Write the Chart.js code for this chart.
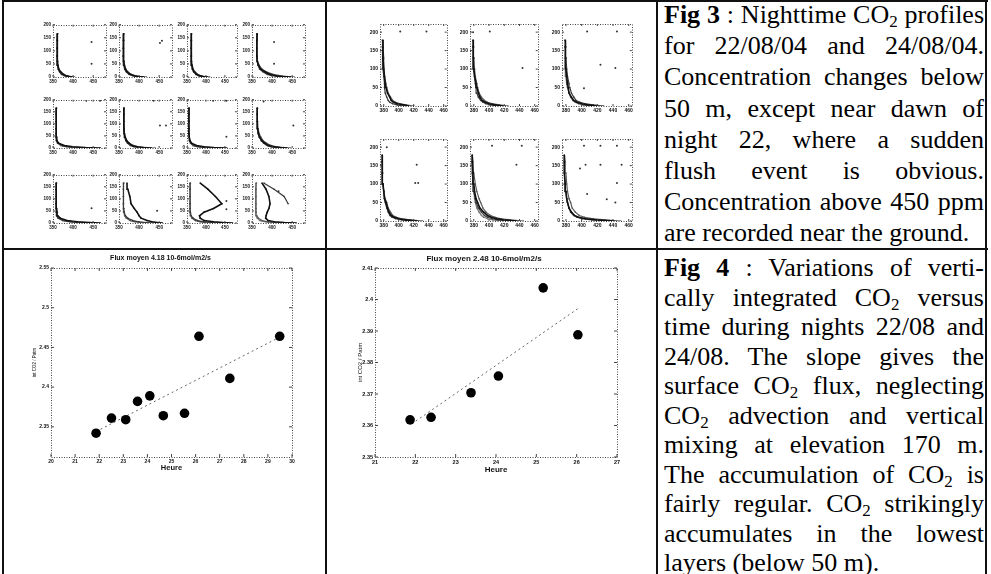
<!DOCTYPE html>
<html>
<head>
<meta charset="utf-8">
<script src="https://cdn.jsdelivr.net/npm/chart.js@4.4.1/dist/chart.umd.min.js"></script>
<style>
html, body { margin: 0; padding: 0; background: #fff; }
#page { position: relative; width: 991px; height: 574px; overflow: hidden; background: #fff; }
#page canvas { position: absolute; }
.rule { position: absolute; background: #111; }
.txt { position: absolute; left: 664px; width: 320px; font-family: "Liberation Serif", "Times New Roman", serif;
       font-size: 26px; color: #000; }
.txt div { white-space: nowrap; text-align: justify; text-align-last: justify; }
.txt div.last { text-align-last: left; }
.txt sub { font-size: 17px; line-height: 0; vertical-align: -4px; }
</style>
</head>
<body>
<div id="page">
  <div class="rule" style="left:2px;top:0;width:986px;height:2px"></div>
  <div class="rule" style="left:2px;top:248px;width:986px;height:2px"></div>
  <div class="rule" style="left:2px;top:0;width:2px;height:574px"></div>
  <div class="rule" style="left:325px;top:0;width:2px;height:574px"></div>
  <div class="rule" style="left:656px;top:0;width:2px;height:574px"></div>
  <div class="rule" style="left:985px;top:0;width:2px;height:574px"></div>

  <div class="txt" style="top:-1px;line-height:31.2px">
    <div><b>Fig 3</b> : Nighttime CO<sub>2</sub> profiles</div>
    <div>for 22/08/04 and 24/08/04.</div>
    <div>Concentration changes below</div>
    <div>50 m, except near dawn of</div>
    <div>night 22, where a sudden</div>
    <div>flush event is obvious.</div>
    <div>Concentration above 450 ppm</div>
    <div class="last">are recorded near the ground.</div>
  </div>
  <div class="txt" style="top:253px;line-height:29.5px">
    <div><b>Fig 4</b> : Variations of verti-</div>
    <div>cally integrated CO<sub>2</sub> versus</div>
    <div>time during nights 22/08 and</div>
    <div>24/08. The slope gives the</div>
    <div>surface CO<sub>2</sub> flux, neglecting</div>
    <div>CO<sub>2</sub> advection and vertical</div>
    <div>mixing at elevation 170 m.</div>
    <div>The accumulation of CO<sub>2</sub> is</div>
    <div>fairly regular. CO<sub>2</sub> strikingly</div>
    <div>accumulates in the lowest</div>
    <div class="last">layers (below 50 m).</div>
  </div>
</div>
<script>
// ---------- data ----------
// heights (m) of the profile levels
const hgt22 = [0, 2, 5, 10, 20, 30, 45, 60, 80, 110, 140, 165];
const hgt24 = [0, 3, 6, 10, 15, 24, 35, 50, 60, 80, 100, 130, 160, 178];

// night 22/08 : 12 panels, CO2 ppm at each level, several profiles per panel
const n22a = [[398, 390, 382, 375, 368, 364, 362, 361, 360, 360, 361, 361], [392, 386, 378, 371, 366, 363, 361, 360, 360, 360, 360, 361], [404, 394, 385, 377, 370, 365, 363, 362, 361, 361, 361, 362]];
const n22b = [[412, 398, 388, 378, 370, 366, 363, 362, 361, 361, 361, 362], [405, 394, 384, 375, 368, 364, 362, 361, 360, 360, 361, 361], [418, 402, 390, 380, 372, 367, 364, 362, 361, 361, 362, 362]];
const n22c = [[404, 392, 384, 376, 369, 365, 363, 362, 361, 361, 361, 362], [398, 388, 380, 373, 367, 364, 362, 361, 361, 361, 361, 361], [410, 396, 387, 378, 371, 366, 364, 362, 362, 361, 362, 362]];
const n22d = [[446, 425, 410, 395, 382, 372, 366, 363, 362, 362, 362, 363], [430, 414, 400, 388, 377, 369, 365, 363, 362, 362, 362, 362], [455, 438, 420, 402, 386, 375, 368, 364, 363, 362, 363, 363]];
const n22e = [[468, 430, 400, 378, 364, 360, 359, 358, 358, 358, 358, 358], [445, 415, 392, 374, 362, 359, 358, 358, 358, 358, 358, 359], [420, 400, 384, 370, 361, 359, 358, 358, 358, 358, 358, 358]];
const n22f = [[430, 410, 395, 383, 374, 369, 365, 363, 362, 362, 362, 362], [415, 400, 388, 378, 371, 367, 364, 363, 362, 362, 362, 362], [440, 418, 400, 386, 376, 370, 366, 364, 363, 362, 362, 363]];
const n22g = [[455, 420, 395, 375, 362, 358, 356, 355, 355, 355, 355, 355], [435, 405, 385, 370, 360, 357, 356, 355, 355, 355, 355, 356], [415, 395, 378, 366, 359, 357, 356, 355, 355, 355, 355, 355]];
const n22h = [[437, 420, 405, 392, 382, 375, 369, 366, 364, 363, 363, 363], [425, 410, 398, 388, 379, 373, 368, 365, 364, 363, 363, 363], [445, 428, 412, 398, 386, 378, 372, 368, 365, 364, 363, 364]];
const n22i = [[468, 440, 410, 385, 368, 362, 360, 359, 358, 358, 358, 358], [450, 425, 400, 378, 364, 360, 359, 358, 358, 358, 358, 358], [430, 410, 392, 374, 362, 359, 358, 358, 358, 358, 358, 359]];
const n22j = [[458, 445, 432, 420, 405, 400, 395, 388, 380, 377, 372, 370], [440, 420, 400, 385, 372, 366, 363, 362, 361, 361, 361, 362], [425, 405, 390, 378, 368, 364, 362, 361, 361, 361, 361, 361]];
const n22k = [[470, 445, 420, 395, 385, 383, 395, 420, 442, 425, 405, 385], [440, 415, 395, 378, 366, 361, 359, 358, 358, 358, 358, 358], [420, 400, 385, 372, 363, 360, 358, 358, 358, 358, 358, 359]];
const n22l = [[460, 430, 405, 390, 384, 385, 388, 392, 395, 392, 385, 375], [null, null, null, null, null, null, null, null, 440, 430, 405, 380], [440, 410, 390, 375, 366, 362, 360, 360, 360, 360, 360, 361], [425, 400, 384, 370, 363, 360, 359, 359, 359, 359, 359, 360]];
const night22 = [n22a, n22b, n22c, n22d, n22e, n22f, n22g, n22h, n22i, n22j, n22k, n22l];
// isolated samples: [panel, ppm, height]
const stray22 = [[0, 446, 134], [0, 446, 51], [1, 452, 130], [1, 457, 139], [3, 405, 134], [3, 405, 51],
                 [4, 433, 196], [4, 467, 196], [5, 436, 196], [5, 452, 93], [5, 467, 93],
                 [6, 419, 196], [6, 454, 196], [6, 454, 47], [7, 379, 193], [7, 453, 93],
                 [8, 446, 61], [9, 445, 51], [10, 454, 91], [10, 454, 57], [11, 416, 131]];

// night 24/08 : 6 panels
const n24a = [[413, 406, 398, 393, 390, 388, 385, 383, 382, 381, 380, 379, 379, 379], [405, 398, 392, 388, 386, 384, 382, 381, 381, 380, 379, 379, 378, 378], [420, 410, 402, 396, 392, 389, 386, 384, 383, 381, 380, 380, 379, 379]];
const n24b = [[418, 408, 400, 395, 391, 388, 386, 384, 383, 381, 380, 380, 379, 379], [410, 402, 396, 392, 389, 386, 384, 383, 382, 381, 380, 379, 379, 379], [425, 414, 405, 398, 394, 390, 387, 385, 384, 382, 381, 380, 380, 379]];
const n24c = [[419, 408, 400, 394, 390, 387, 384, 383, 382, 381, 380, 380, 379, 379], [428, 415, 405, 398, 393, 390, 387, 385, 384, 382, 381, 380, 380, 379], [410, 402, 396, 392, 389, 386, 384, 382, 381, 380, 380, 379, 379, 379]];
const n24d = [[424, 410, 400, 394, 390, 387, 385, 383, 381, 380, 379, 378, 378, 378], [415, 404, 396, 391, 388, 386, 384, 382, 381, 380, 379, 378, 378, 378], [432, 416, 404, 397, 392, 389, 386, 384, 382, 380, 379, 379, 378, 378]];
const n24e = [[436, 420, 410, 403, 398, 393, 388, 385, 383, 381, 380, 379, 378, 378], [425, 412, 404, 398, 394, 390, 386, 383, 382, 380, 379, 378, 378, 378], [445, 428, 416, 408, 402, 396, 392, 389, 387, 384, 382, 380, 379, 378], [415, 405, 398, 393, 390, 387, 384, 382, 381, 380, 379, 378, 378, 378]];
const n24f = [[441, 420, 405, 396, 391, 387, 384, 382, 381, 380, 379, 378, 378, 378], [430, 413, 401, 394, 390, 386, 384, 382, 381, 380, 379, 378, 378, 378], [450, 430, 415, 404, 397, 392, 388, 386, 384, 382, 381, 380, 379, 378]];
const night24 = [n24a, n24b, n24c, n24d, n24e, n24f];
const stray24 = [[0, 402, 202], [0, 437, 202], [1, 379, 200], [1, 401, 202], [1, 444, 103],
                 [2, 407, 202], [2, 445, 202], [2, 424, 112], [2, 443, 103], [2, 403, 48],
                 [3, 384, 200], [3, 424, 152], [3, 422, 103], [3, 426, 103],
                 [4, 404, 204], [4, 443, 204], [4, 436, 152],
                 [5, 403, 204], [5, 424, 204], [5, 445, 204], [5, 405, 152], [5, 424, 152], [5, 451, 152],
                 [5, 398, 142], [5, 407, 73], [5, 445, 103], [5, 432, 59], [5, 443, 50]];

// Fig 4 : vertically integrated CO2 vs hour
const hours22 = [21.87, 22.51, 23.10, 23.59, 24.10, 24.66, 25.54, 26.14, 27.42, 29.49];
const co2int22 = [2.342, 2.361, 2.359, 2.382, 2.389, 2.364, 2.367, 2.464, 2.411, 2.464];
const fitHours22 = [21.87, 29.49];
const fitCo2int22 = [2.344, 2.463];
const hours24 = [21.87, 22.39, 23.38, 24.06, 25.17, 26.03];
const co2int24 = [2.3618, 2.3626, 2.3704, 2.3757, 2.4037, 2.3888];
const fitHours24 = [21.91, 26.03];
const fitCo2int24 = [2.3605, 2.3971];

// tick labels
const ppmTicks22 = [350, 400, 450];
const ppmTicks24 = [380, 400, 420, 440, 460];
const hgtTicks = [0, 50, 100, 150, 200];
const hourTicks22 = [20, 21, 22, 23, 24, 25, 26, 27, 28, 29, 30];
const intTicks22 = [2.35, 2.4, 2.45, 2.5, 2.55];
const hourTicks24 = [21, 22, 23, 24, 25, 26, 27];
const intTicks24 = [2.35, 2.36, 2.37, 2.38, 2.39, 2.4, 2.41];

// ---------- drawing ----------
Chart.defaults.font.family = '"Liberation Sans", Arial, sans-serif';
Chart.defaults.color = '#111';
Chart.defaults.animation = false;

const page = document.getElementById('page');

function place(x, y, w, h) {
    const c = document.createElement('canvas');
    c.width = w; c.height = h;
    c.style.left = x + 'px'; c.style.top = y + 'px';
    c.style.width = w + 'px'; c.style.height = h + 'px';
    page.appendChild(c);
    return c.getContext('2d');
}

// dotted IDL style box with inward tick marks
const framePlugin = {
    id: 'frame',
    afterDatasetsDraw(chart, args, o) {
        const { ctx, chartArea: a, scales } = chart;
        ctx.save();
        ctx.strokeStyle = '#444';
        ctx.lineWidth = 1;
        ctx.setLineDash([1, 1.5]);
        ctx.strokeRect(Math.round(a.left) + 0.5, Math.round(a.top) + 0.5, Math.round(a.width), Math.round(a.height));
        ctx.setLineDash([]);
        ctx.beginPath();
        scales.x.ticks.forEach(t => {
            const px = scales.x.getPixelForValue(t.value);
            ctx.moveTo(px, a.bottom); ctx.lineTo(px, a.bottom - o.tick);
            ctx.moveTo(px, a.top); ctx.lineTo(px, a.top + o.tick);
        });
        scales.y.ticks.forEach(t => {
            const py = scales.y.getPixelForValue(t.value);
            ctx.moveTo(a.left, py); ctx.lineTo(a.left + o.tick, py);
            ctx.moveTo(a.right, py); ctx.lineTo(a.right - o.tick, py);
        });
        ctx.stroke();
        ctx.restore();
    }
};

function axis(min, max, ticks, fit, fontSize, title) {
    return {
        type: 'linear', min: min, max: max,
        afterBuildTicks: s => { s.ticks = ticks.map(v => ({ value: v })); },
        afterFit: fit,
        grid: { display: false, drawTicks: false },
        border: { display: false },
        ticks: { autoSkip: false, maxRotation: 0, padding: 2, font: { size: fontSize, weight: 'bold' },
                 callback: v => String(Math.round(v * 1000) / 1000) },
        title: title || { display: false }
    };
}

// small profile panels: chart areas
const lay22 = { cols: [53, 119, 187, 252], widths: [53, 53, 50, 53], rows: [23, 98, 173], heights: [54, 50, 50] };
const lay24 = { cols: [380, 470, 562], widths: [67, 68, 70], rows: [22, 137], heights: [84, 84] };
const shades = ['#111', '#3a3a3a', '#5a5a5a', '#777'];

function profilePanels(lay, night, hgt, strays, ppmMin, ppmMax, ppmTicks, hMax, fontSize) {
    const yw = 13, xh = 10, pt = 3, pr = 3;
    night.forEach((profiles, k) => {
        const ncol = lay.cols.length;
        const c = k % ncol, r = Math.floor(k / ncol);
        const l = lay.cols[c], t = lay.rows[r], w = lay.widths[c], h = lay.heights[r];
        const ctx = place(l - yw, t - pt, w + yw + pr, h + pt + xh);
        const datasets = profiles.map((p, i) => ({
            data: hgt.map((z, j) => ({ x: p[j], y: z })).filter(d => d.x != null),
            showLine: true, borderColor: shades[i], backgroundColor: shades[i],
            borderWidth: i === 0 ? 1.6 : 1.2, pointRadius: 0.8, pointBorderWidth: 0
        }));
        datasets.push({
            data: strays.filter(s => s[0] === k).map(s => ({ x: s[1], y: s[2] })),
            showLine: false, backgroundColor: '#333', borderColor: '#333', pointRadius: 1, pointBorderWidth: 0
        });
        new Chart(ctx, {
            type: 'scatter',
            data: { datasets: datasets },
            options: {
                responsive: false, devicePixelRatio: 1, events: [],
                layout: { padding: { top: pt, right: pr, left: 0, bottom: 0 }, autoPadding: false },
                plugins: { legend: { display: false }, tooltip: { enabled: false }, frame: { tick: 2 } },
                scales: {
                    x: axis(ppmMin, ppmMax, ppmTicks, s => { s.height = xh; }, fontSize),
                    y: axis(0, hMax, hgtTicks, s => { s.width = yw; }, fontSize)
                }
            },
            plugins: [framePlugin]
        });
    });
}

profilePanels(lay22, night22, hgt22, stray22, 350, 482, ppmTicks22, 200, 4.5);
profilePanels(lay24, night24, hgt24, stray24, 375, 464, ppmTicks24, 222, 5);

// Fig 4 scatter plots
function fluxChart(o) {
    const ctx = place(o.x, o.y, o.w, o.h);
    new Chart(ctx, {
        type: 'scatter',
        data: {
            datasets: [
                { data: o.hours.map((v, i) => ({ x: v, y: o.vals[i] })), backgroundColor: '#000', borderColor: '#000',
                  pointRadius: 4.8, pointBorderWidth: 0 },
                { data: o.fitH.map((v, i) => ({ x: v, y: o.fitV[i] })), showLine: true, borderColor: '#666',
                  borderWidth: 1, borderDash: [2, 3], pointRadius: 0 }
            ]
        },
        options: {
            responsive: false, devicePixelRatio: 1, events: [],
            layout: { padding: { top: 0, right: o.yw, left: 0, bottom: 0 }, autoPadding: false },
            plugins: {
                legend: { display: false }, tooltip: { enabled: false }, frame: { tick: 3 },
                title: { display: true, text: o.title, color: '#111',
                         font: { size: o.titleSize, weight: 'bold' }, padding: { top: 0, bottom: o.titleGap } }
            },
            scales: {
                x: axis(o.xmin, o.xmax, o.xticks, s => { s.height = 22; }, o.tickSize,
                        { display: true, text: 'Heure', color: '#111', font: { size: o.labelSize, weight: 'bold' },
                          padding: { top: 0, bottom: o.labelGap } }),
                y: axis(o.ymin, o.ymax, o.yticks, s => { s.width = o.yw; }, o.tickSize,
                        { display: true, text: 'int CO2 / Patm', color: '#111', font: { size: o.ylabSize },
                          padding: { top: o.ylabGap, bottom: 0 } })
            }
        },
        plugins: [framePlugin]
    });
}

fluxChart({ x: 29, y: 254, w: 285, h: 225, yw: 22, title: 'Flux moyen 4.18 10-6mol/m2/s', titleSize: 7, titleGap: 5.6,
            hours: hours22, vals: co2int22, fitH: fitHours22, fitV: fitCo2int22,
            xmin: 20, xmax: 30, xticks: hourTicks22, ymin: 2.312, ymax: 2.55, yticks: intTicks22,
            tickSize: 5, labelSize: 7.5, labelGap: 6.5, ylabSize: 4.5, ylabGap: 3.3 });
fluxChart({ x: 351, y: 254, w: 290, h: 225, yw: 24, title: 'Flux moyen 2.48 10-6mol/m2/s', titleSize: 8, titleGap: 4.4,
            hours: hours24, vals: co2int24, fitH: fitHours24, fitV: fitCo2int24,
            xmin: 21, xmax: 27, xticks: hourTicks24, ymin: 2.35, ymax: 2.41, yticks: intTicks24,
            tickSize: 5.5, labelSize: 8, labelGap: 4.2, ylabSize: 6, ylabGap: 5.4 });
</script>
</body>
</html>
